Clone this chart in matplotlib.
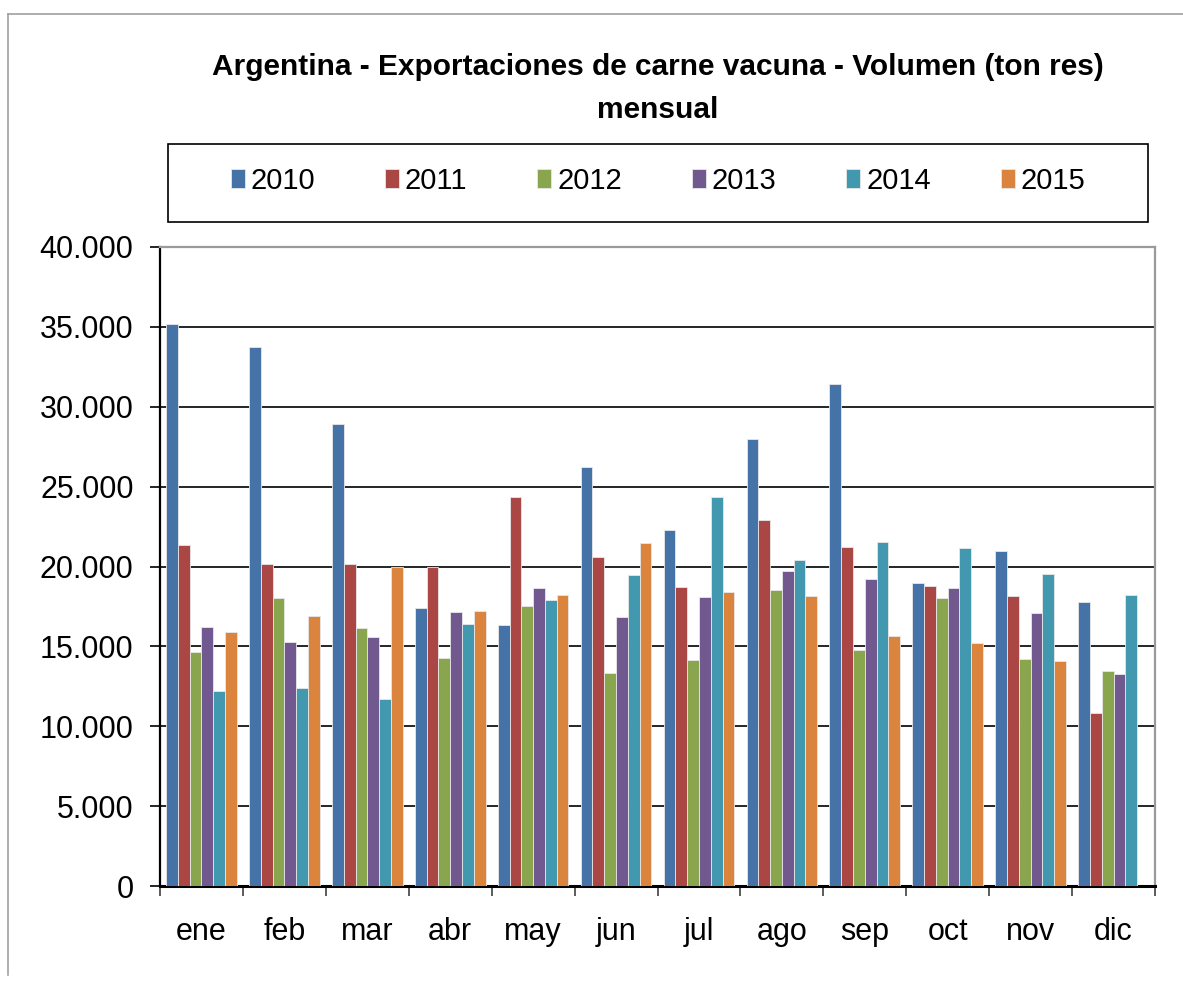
import numpy as np
import matplotlib
matplotlib.use("Agg")
import matplotlib.pyplot as plt
from matplotlib.patches import Rectangle
from matplotlib.lines import Line2D
from matplotlib.ticker import FuncFormatter

plt.rcParams['font.family'] = ['Liberation Sans Narrow', 'Liberation Sans', 'DejaVu Sans']

meses = ["ene", "feb", "mar", "abr", "may", "jun", "jul", "ago", "sep", "oct", "nov", "dic"]
anios = ["2010", "2011", "2012", "2013", "2014", "2015"]

# ton res por mes
v2010 = [35150, 33770, 28900, 17400, 16360, 26210, 22270, 27960, 31400, 18960, 20960, 17790]
v2011 = [21340, 20130, 20130, 19960, 24340, 20610, 18710, 22900, 21230, 18770, 18130, 10840]
v2012 = [14650, 18000, 16170, 14250, 17520, 13340, 14170, 18560, 14750, 18000, 14210, 13480]
v2013 = [16230, 15290, 15600, 17130, 18670, 16840, 18090, 19730, 19210, 18650, 17100, 13250]
v2014 = [12210, 12380, 11690, 16420, 17920, 19440, 24360, 20420, 21520, 21130, 19560, 18210]
v2015 = [15900, 16900, 19960, 17210, 18230, 21460, 18400, 18130, 15670, 15210, 14090, 0]

series = [v2010, v2011, v2012, v2013, v2014, v2015]
colores = ["#4572A7", "#AA4643", "#89A54E", "#71588F", "#4198AF", "#DB843D"]

fig = plt.figure(figsize=(11.83, 9.81), dpi=100)
ax = fig.add_axes([160 / 1183, 1 - 886 / 981, 995 / 1183, 639 / 981])

x = np.arange(len(meses))
w = 0.142
for j, vals in enumerate(series):
    ax.bar(x + (j - 2.5) * w, vals, width=w, color=colores[j],
           edgecolor="#e8e8e8", linewidth=0.6, label=anios[j], zorder=3)

ax.set_xlim(-0.5, 11.5)
ax.set_ylim(0, 40000)
ax.set_yticks(np.arange(0, 40001, 5000))
ax.yaxis.set_major_formatter(FuncFormatter(lambda v, p: "0" if v == 0 else f"{int(v):,}".replace(",", ".")))
ax.yaxis.grid(True, color="black", linewidth=1.2, zorder=1)

ax.set_xticks(np.arange(-0.5, 12, 1))
ax.set_xticklabels([])
ax.set_xticks(x, minor=True)
ax.set_xticklabels(meses, minor=True)
ax.tick_params(axis="x", which="major", direction="out", length=7, width=1.2, color="#404040")
ax.tick_params(axis="x", which="minor", length=0, pad=22, labelsize=22)
ax.tick_params(axis="y", direction="out", length=7, width=1.2, pad=12, labelsize=22)

ax.spines["left"].set_linewidth(1.6)
ax.spines["bottom"].set_linewidth(2.2)
for s in ["top", "right"]:
    ax.spines[s].set_color("#9a9a9a")
    ax.spines[s].set_linewidth(1.6)

# titulo
fig.text(658 / 1183, 1 - 75 / 981, "Argentina - Exportaciones de carne vacuna - Volumen (ton res)",
         ha="center", va="baseline", fontsize=21.5, fontweight="bold")
fig.text(658 / 1183, 1 - 118 / 981, "mensual",
         ha="center", va="baseline", fontsize=21.5, fontweight="bold")

# leyenda
fig.patches.append(Rectangle((168 / 1183, 1 - 222 / 981), 980 / 1183, 78 / 981,
                             transform=fig.transFigure, fill=False, edgecolor="black", linewidth=1.2))
fig.legend(loc="center", bbox_to_anchor=(658 / 1183, 1 - 181 / 981), ncol=6, frameon=False,
           fontsize=21, handlelength=0.48, handleheight=0.62, handletextpad=0.2, columnspacing=2.4)

# marco exterior
fig.add_artist(Line2D([8 / 1183, 1], [1 - 14 / 981, 1 - 14 / 981], transform=fig.transFigure,
                      color="#a0a0a0", linewidth=1.2))
fig.add_artist(Line2D([8 / 1183, 8 / 1183], [1 - 14 / 981, 1 - 975 / 981], transform=fig.transFigure,
                      color="#a0a0a0", linewidth=1.2))

fig.savefig("out.png", dpi=100)
